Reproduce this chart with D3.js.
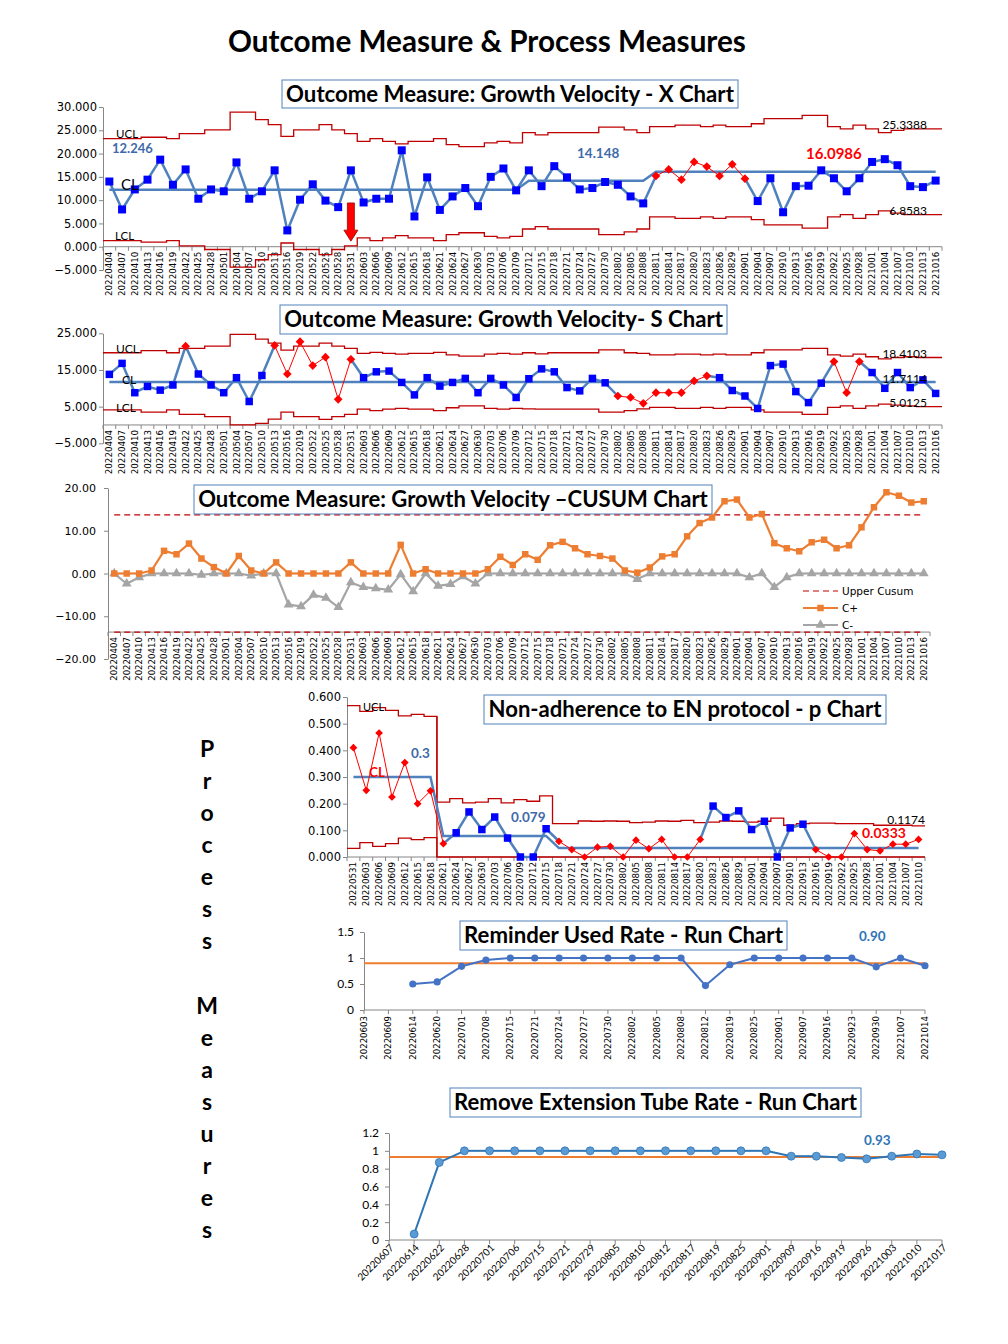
<!DOCTYPE html>
<html>
<head>
<meta charset="utf-8">
<title>Outcome Measure & Process Measures</title>
<script src="https://cdn.jsdelivr.net/npm/d3@7"></script>
<style>
  body { margin: 0; background: #ffffff; }
  svg { display: block; }
</style>
</head>
<body>
<div id="page"></div>
<script>
// ---------- outcome measure: growth velocity ----------
var gvDates = ["20220404","20220407","20220410","20220413","20220416","20220419","20220422","20220425","20220428",
  "20220501","20220504","20220507","20220510","20220513","20220516","20222019","20220522","20220525","20220528","20220531",
  "20220603","20220606","20220609","20220612","20220615","20220618","20220621","20220624","20220627","20220630",
  "20220703","20220706","20220709","20220712","20220715","20220718","20220721","20220724","20220727","20220730",
  "20220802","20220805","20220808","20220811","20220814","20220817","20220820","20220823","20220826","20220829",
  "20220901","20220904","20220907","20220910","20220913","20220916","20220919","20220922","20220925","20220928",
  "20221001","20221004","20221007","20221010","20221013","20221016"];

// X chart
var gvX = [14.0, 8.0, 12.3, 14.4, 18.7, 13.3, 16.6, 10.3, 12.3, 11.9,
  18.1, 10.3, 11.9, 16.4, 3.5, 10.1, 13.4, 9.9, 8.5, 16.4,
  9.5, 10.3, 10.3, 20.7, 6.5, 14.9, 7.9, 10.8, 12.6, 8.7,
  15.0, 16.8, 12.1, 16.4, 13.0, 17.3, 14.9, 12.3, 12.6, 13.9,
  13.3, 10.8, 9.3, 15.2, 16.6, 14.4, 18.2, 17.2, 15.2, 17.7,
  14.6, 9.8, 14.7, 7.4, 13.0, 13.1, 16.4, 14.7, 11.9, 14.7,
  18.2, 18.8, 17.5, 13.0, 12.8, 14.2];
var gvXUcl = [23.2, 23.2, 23.2, 23.5, 23.5, 23.2, 24.3, 24.3, 25.1, 25.1,
  28.9, 28.9, 27.3, 26.2, 23.7, 25.1, 25.1, 26.2, 25.1, 24.3,
  22.6, 23.2, 22.6, 22.1, 22.6, 22.6, 23.2, 21.9, 21.5, 21.5,
  22.3, 22.6, 22.3, 24.5, 24.0, 24.5, 24.5, 24.5, 24.5, 25.7,
  25.7, 25.1, 24.5, 25.8, 25.8, 26.1, 26.1, 25.8, 26.1, 25.8,
  25.8, 26.4, 27.5, 27.5, 27.5, 28.2, 28.2, 25.8, 25.3, 26.1,
  25.3, 24.5, 25.0, 25.3, 25.3, 25.3];
var gvXLcl = [1.3, 1.3, 1.3, 1.0, 1.0, 1.3, 0.2, 0.2, -0.6, -0.6,
  -4.4, -4.4, -2.8, -1.7, 0.8, -0.6, -0.6, -1.7, -0.6, 0.2,
  1.9, 1.3, 1.9, 2.4, 1.9, 1.9, 1.3, 2.6, 3.0, 3.0,
  2.2, 1.9, 2.2, 3.8, 4.3, 3.8, 3.8, 3.8, 3.8, 2.6,
  2.6, 3.2, 3.8, 6.4, 6.4, 6.1, 6.1, 6.4, 6.1, 6.4,
  6.4, 5.8, 4.7, 4.7, 4.7, 4.0, 4.0, 6.4, 6.9, 6.1,
  6.9, 7.7, 7.2, 6.9, 6.9, 6.9];
var gvXClValues = [12.246, 14.148, 16.0986];
var gvXClStart = ["20220404", "20220712", "20220811"];
var gvXSignal = ["20220811","20220814","20220817","20220820","20220823","20220826","20220829","20220901"];
var gvXLimitLabels = ["25.3388", "6.8583"];
var gvXArrow = { date: "20220531", from: 9.4, to: 1.2 };

// S chart
var gvS = [13.8, 16.8, 8.8, 10.5, 9.5, 10.9, 21.5, 13.9, 10.9, 8.8,
  12.9, 6.4, 13.5, 21.7, 13.9, 22.7, 16.2, 18.5, 7.0, 17.9,
  12.9, 14.5, 14.7, 11.6, 8.2, 12.9, 10.6, 11.6, 12.7, 8.8,
  12.7, 10.9, 7.5, 12.6, 15.3, 14.5, 10.2, 9.3, 12.7, 11.5,
  7.9, 7.5, 5.9, 8.8, 8.8, 8.8, 12.0, 13.4, 12.9, 9.4,
  7.9, 4.5, 16.2, 16.6, 9.1, 6.1, 11.4, 17.3, 8.8, 17.3,
  14.3, 10.0, 14.3, 10.2, 12.3, 8.6];
var gvSUcl = [19.7, 19.7, 19.7, 20.3, 20.3, 19.7, 20.9, 20.9, 21.5, 21.5,
  24.7, 24.7, 23.4, 22.3, 20.4, 21.5, 21.5, 22.3, 21.5, 20.9,
  19.5, 19.8, 19.5, 19.3, 19.5, 19.5, 19.8, 19.1, 18.8, 18.8,
  19.3, 19.5, 19.3, 19.7, 19.4, 19.7, 19.7, 19.7, 19.7, 20.5,
  20.5, 19.7, 19.5, 19.1, 19.1, 19.3, 19.3, 19.1, 19.3, 19.1,
  19.1, 19.7, 20.5, 20.5, 20.5, 20.9, 20.9, 19.1, 18.8, 19.3,
  18.6, 18.0, 18.4, 18.6, 18.4, 18.4];
var gvSLcl = [4.1, 4.1, 4.1, 3.5, 3.5, 4.1, 2.9, 2.9, 2.3, 2.3,
  0.0, 0.0, 0.45, 1.6, 3.5, 2.3, 2.3, 1.5, 2.3, 2.9,
  4.3, 3.9, 4.3, 4.5, 4.3, 4.3, 3.9, 4.7, 5.2, 5.2,
  4.5, 4.3, 4.5, 4.4, 4.3, 4.3, 4.3, 4.3, 4.3, 3.5,
  3.5, 3.9, 4.4, 4.8, 4.8, 4.5, 4.5, 4.8, 4.5, 4.8,
  4.8, 4.1, 3.5, 3.5, 3.5, 2.9, 2.9, 4.8, 5.2, 4.5,
  5.2, 5.7, 5.4, 5.2, 5.0, 5.0];
var gvSCl = 11.7114;
var gvSSignal = ["20220422","20220513","20220516","20222019","20220522","20220525","20220528","20220531",
  "20220802","20220805","20220808","20220811","20220814","20220817","20220820","20220823",
  "20220922","20220925","20220928"];
var gvSLimitLabels = ["18.4103", "11.7114", "5.0125"];

// CUSUM chart
var cusumPlus = [0, 0, 0, 0.7, 5.3, 4.5, 7.0, 3.5, 1.5, 0,
  4.1, 0.7, 0, 2.6, 0, 0, 0, 0, 0, 2.6,
  0, 0, 0, 6.7, 0, 1.0, 0, 0, 0, 0,
  1.0, 3.9, 2.0, 4.5, 3.2, 6.6, 7.4, 5.9, 4.5, 4.1,
  3.5, 0.7, 0.2, 1.4, 4.0, 4.5, 8.7, 11.8, 13.1, 16.9,
  17.3, 13.1, 13.9, 7.1, 5.9, 5.2, 7.3, 7.9, 5.9, 6.6,
  10.8, 15.5, 19.0, 18.2, 16.6, 16.9];
var cusumMinus = [0, -2.4, -0.9, 0, 0, 0, 0, -0.3, 0, 0,
  0, -0.5, 0, 0, -7.3, -7.7, -5.0, -5.7, -7.9, -2.1,
  -3.2, -3.5, -3.8, -0.2, -4.2, 0, -2.9, -2.5, -0.7, -2.4,
  0, 0, 0, 0, 0, 0, 0, 0, 0, 0,
  0, 0, -1.3, 0, 0, 0, 0, 0, 0, 0,
  0, -0.9, 0, -3.2, -0.9, 0, 0, 0, 0, 0,
  0, 0, 0, 0, 0, 0];
var cusumLimit = 13.7;
var cusumLegend = ["Upper Cusum", "C+", "C-"];

// ---------- process measure: p chart ----------
var pDates = ["20220531","20220603","20220606","20220609","20220612","20220615","20220618","20220621","20220624","20220627","20220630",
  "20220703","20220706","20220709","20220712","20220715","20220718","20220721","20220724","20220727","20220730",
  "20220802","20220805","20220808","20220811","20220814","20220817","20220820","20220823","20220826","20220829",
  "20220901","20220904","20220907","20220910","20220913","20220916","20220919","20220922","20220925","20220928",
  "20221001","20221004","20221007","20221010"];
var pValues = [0.41, 0.25, 0.465, 0.225, 0.354, 0.20, 0.248, 0.05, 0.091, 0.169, 0.103,
  0.15, 0.071, 0, 0, 0.106, 0.059, 0.028, 0, 0.037, 0.04,
  0, 0.063, 0.031, 0.066, 0, 0, 0.066, 0.191, 0.148, 0.173,
  0.103, 0.134, 0, 0.109, 0.123, 0.028, 0, 0, 0.088, 0.028,
  0.023, 0.048, 0.048, 0.066];
var pUcl = [0.568, 0.546, 0.56, 0.55, 0.529, 0.535, 0.527, 0.206, 0.219, 0.203, 0.206,
  0.219, 0.203, 0.215, 0.209, 0.229, 0.125, 0.125, 0.135, 0.134, 0.135,
  0.134, 0.129, 0.131, 0.135, 0.134, 0.1375, 0.129, 0.131, 0.135, 0.134,
  0.131, 0.134, 0.146, 0.119, 0.125, 0.127, 0.127, 0.125, 0.125, 0.125,
  0.119, 0.119, 0.119, 0.117];
var pLcl = [0.032, 0.054, 0.04, 0.05, 0.071, 0.065, 0.073, 0, 0, 0, 0,
  0, 0, 0, 0, 0, 0, 0, 0, 0, 0,
  0, 0, 0, 0, 0, 0, 0, 0, 0, 0,
  0, 0, 0, 0, 0, 0, 0, 0, 0, 0,
  0, 0, 0, 0];
var pClValues = [0.3, 0.079, 0.0333];
var pClStart = ["20220531", "20220621", "20220718"];
var pBlue = ["20220624","20220627","20220630","20220703","20220706","20220709","20220712","20220715",
  "20220823","20220826","20220829","20220901","20220904","20220907","20220910","20220913"];
var pUclLabel = "0.1174";

// ---------- process measure: run charts ----------
var remDates = ["20220603","20220609","20220614","20220620","20220701","20220708","20220715","20220721","20220724","20220727",
  "20220730","20220802","20220805","20220808","20220812","20220819","20220825","20220901","20220907","20220916",
  "20220923","20220930","20221007","20221014"];
var remValues = [null, null, 0.50, 0.54, 0.84, 0.96, 1, 1, 1, 1,
  1, 1, 1, 1, 0.47, 0.87, 1, 1, 1, 1,
  1, 0.83, 1, 0.85];
var remMean = 0.90;

var tubeDates = ["20220607","20220614","20220622","20220628","20220701","20220706","20220715","20220721","20220729","20220805",
  "20220810","20220812","20220817","20220819","20220825","20220901","20220909","20220916","20220919","20220926",
  "20221003","20221010","20221017"];
var tubeValues = [null, 0.067, 0.87, 1, 1, 1, 1, 1, 1, 1,
  1, 1, 1, 1, 1, 1, 0.94, 0.94, 0.925, 0.91,
  0.94, 0.965, 0.955];
var tubeMean = 0.93;

// ---------- drawing ----------
var axisGray = "#868686";
var limitRed = "#C00000";
var lineBlue = "#4F81BD";
var markBlue = "#0000FF";
var red = "#FF0000";
var tickFont = "'DejaVu Sans', Verdana, sans-serif";
var titleFont = "Lato, Calibri, sans-serif";

var svg = d3.select("#page").append("svg")
  .attr("width", 1008)
  .attr("height", 1344);
svg.append("rect").attr("width", 1008).attr("height", 1344).attr("fill", "#fff");

function fitWidth(t, w) {
  var len = t.node().getComputedTextLength();
  var fs = parseFloat(t.attr("font-size"));
  t.attr("font-size", fs * w / len);
}

function titleBox(x0, y0, x1, y1, label, textW) {
  svg.append("rect")
    .attr("x", x0).attr("y", y0)
    .attr("width", x1 - x0).attr("height", y1 - y0)
    .attr("fill", "#fff").attr("stroke", "#4F81BD").attr("stroke-width", 1);
  var t = svg.append("text")
    .attr("x", (x0 + x1) / 2).attr("y", (y0 + y1) / 2)
    .attr("text-anchor", "middle")
    .attr("font-family", titleFont).attr("font-weight", "bold")
    .attr("font-size", 20).attr("fill", "#000")
    .text(label);
  fitWidth(t, textW);
  t.attr("dy", "0.36em");
}

function label(g, x, y, txt, opt) {
  opt = opt || {};
  return g.append("text")
    .attr("x", x).attr("y", y)
    .attr("text-anchor", opt.anchor || "start")
    .attr("font-family", opt.font || titleFont)
    .attr("font-weight", opt.bold ? "bold" : "normal")
    .attr("font-size", opt.size || 12)
    .attr("fill", opt.color || "#000")
    .text(txt);
}

function leftAxis(g, y, xPos, ticks, fmt, font, size, pad) {
  var ax = d3.axisLeft(y).tickValues(ticks).tickFormat(fmt)
    .tickSizeInner(4).tickSizeOuter(0).tickPadding(pad);
  var a = g.append("g").attr("transform", "translate(" + xPos + ",0)").call(ax);
  a.select(".domain").attr("stroke", axisGray);
  a.selectAll(".tick line").attr("stroke", axisGray);
  a.selectAll(".tick text").attr("font-family", font).attr("font-size", size).attr("fill", "#000");
}

// category axis for band scales (ticks on category edges)
function catAxis(g, x, yPos, size) {
  var r = x.range();
  g.append("line").attr("x1", r[0]).attr("x2", r[1]).attr("y1", yPos).attr("y2", yPos)
    .attr("stroke", axisGray);
  var edges = x.domain().map(function(d) { return x(d); }).concat([r[1]]);
  g.selectAll(null).data(edges).enter().append("line")
    .attr("x1", function(d) { return d; }).attr("x2", function(d) { return d; })
    .attr("y1", yPos).attr("y2", yPos + 4)
    .attr("stroke", axisGray);
  g.selectAll(null).data(x.domain()).enter().append("text")
    .attr("transform", function(d) {
      return "translate(" + (x(d) + x.bandwidth() / 2) + "," + (yPos + 5) + ") rotate(-90)";
    })
    .attr("text-anchor", "end").attr("dy", "0.35em")
    .attr("font-family", tickFont).attr("font-size", size).attr("fill", "#000")
    .text(function(d) { return d; });
}

// category axis for point scales (ticks on the categories)
function pointAxis(g, x, yPos, size, angle, font) {
  var r = x.range();
  g.append("line").attr("x1", r[0]).attr("x2", r[1]).attr("y1", yPos).attr("y2", yPos)
    .attr("stroke", axisGray);
  g.selectAll(null).data(x.domain()).enter().append("line")
    .attr("x1", function(d) { return x(d); }).attr("x2", function(d) { return x(d); })
    .attr("y1", yPos).attr("y2", yPos + 4)
    .attr("stroke", axisGray);
  g.selectAll(null).data(x.domain()).enter().append("text")
    .attr("transform", function(d) {
      var dx = angle === -45 ? 3 : 0;
      return "translate(" + (x(d) + dx) + "," + (yPos + 6) + ") rotate(" + angle + ")";
    })
    .attr("text-anchor", "end").attr("dy", "0.35em")
    .attr("font-family", font).attr("font-size", size).attr("fill", "#000")
    .text(function(d) { return d; });
}

function center(x, d) {
  return x(d) + (x.bandwidth ? x.bandwidth() / 2 : 0);
}

function stepLimit(g, x, y, vals, color) {
  var pts = [];
  x.domain().forEach(function(d, i) {
    pts.push([x(d), vals[i]]);
    pts.push([x(d) + x.bandwidth(), vals[i]]);
  });
  g.append("path").datum(pts)
    .attr("d", d3.line().x(function(p) { return p[0]; }).y(function(p) { return y(p[1]); }))
    .attr("fill", "none").attr("stroke", color).attr("stroke-width", 1.3);
}

function phaseValue(dates, starts, values, d) {
  var idx = dates.indexOf(d), v = values[0];
  starts.forEach(function(s, k) { if (idx >= dates.indexOf(s)) v = values[k]; });
  return v;
}

function centerLine(g, x, y, dates, clAt, color, width) {
  g.append("path").datum(dates)
    .attr("d", d3.line().x(function(d) { return center(x, d); }).y(function(d) { return y(clAt(d)); }))
    .attr("fill", "none").attr("stroke", color).attr("stroke-width", width);
}

function drawSeries(g, x, y, dates, vals, flagged, st) {
  for (var i = 0; i < vals.length - 1; i++) {
    if (vals[i] == null || vals[i + 1] == null) continue;
    var both = flagged.indexOf(dates[i]) >= 0 && flagged.indexOf(dates[i + 1]) >= 0;
    var s = both ? st.flag : st.base;
    g.append("line")
      .attr("x1", center(x, dates[i])).attr("y1", y(vals[i]))
      .attr("x2", center(x, dates[i + 1])).attr("y2", y(vals[i + 1]))
      .attr("stroke", s.stroke).attr("stroke-width", s.width);
  }
  vals.forEach(function(v, i) {
    if (v == null) return;
    var s = flagged.indexOf(dates[i]) >= 0 ? st.flag : st.base;
    g.append("path")
      .attr("d", d3.symbol().type(s.shape).size(s.size)())
      .attr("transform", "translate(" + center(x, dates[i]) + "," + y(v) + ") rotate(" + (s.rot || 0) + ")")
      .attr("fill", s.fill)
      .attr("stroke", s.mstroke || "none")
      .attr("stroke-width", 0.8);
  });
}

var blueSquare = { stroke: lineBlue, width: 2.5, shape: d3.symbolSquare, size: 64, fill: markBlue };
var redDiamond = { stroke: red, width: 1, shape: d3.symbolSquare, size: 38, rot: 45, fill: red };

// ---------- main title ----------
var main = svg.append("text")
  .attr("x", 487).attr("y", 52).attr("text-anchor", "middle")
  .attr("font-family", titleFont).attr("font-weight", "bold").attr("font-size", 28)
  .text("Outcome Measure & Process Measures");
fitWidth(main, 518);

// ---------- X chart ----------
var gX = svg.append("g");
var xX = d3.scaleBand().domain(gvDates).range([103, 942]);
var yX = d3.scaleLinear().domain([-5, 30]).range([270, 107]);
leftAxis(gX, yX, 103, [-5, 0, 5, 10, 15, 20, 25, 30], d3.format(".3f"), tickFont, 11.5, 2);
catAxis(gX, xX, yX(0), 8.7);
stepLimit(gX, xX, yX, gvXUcl, limitRed);
stepLimit(gX, xX, yX, gvXLcl, limitRed);
centerLine(gX, xX, yX, gvDates, function(d) { return phaseValue(gvDates, gvXClStart, gvXClValues, d); }, lineBlue, 2.5);
drawSeries(gX, xX, yX, gvDates, gvX, gvXSignal, { base: blueSquare, flag: redDiamond });

// arrow
var ax0 = center(xX, gvXArrow.date);
var ayTop = yX(gvXArrow.from), ayTip = yX(gvXArrow.to);
gX.append("path")
  .attr("d", "M" + (ax0 - 3.5) + "," + ayTop + "V" + (ayTip - 11) + "H" + (ax0 - 7) +
    "L" + ax0 + "," + ayTip + "L" + (ax0 + 7) + "," + (ayTip - 11) + "H" + (ax0 + 3.5) + "V" + ayTop + "Z")
  .attr("fill", red).attr("stroke", "#A00000").attr("stroke-width", 0.8);

label(gX, 116, 138, "UCL", { size: 11.5 });
label(gX, 112, 153, String(gvXClValues[0]), { size: 13, bold: true, color: "#3F6AAA" });
label(gX, 121, 190, "CL", { size: 15 });
label(gX, 115, 240, "LCL", { size: 11.5 });
label(gX, 577, 158, String(gvXClValues[1]), { size: 13.5, bold: true, color: "#3F6AAA" });
label(gX, 806, 159, String(gvXClValues[2]), { size: 15, bold: true, color: red });
label(gX, 927, 129, gvXLimitLabels[0], { size: 12, anchor: "end" });
label(gX, 927, 215, gvXLimitLabels[1], { size: 12, anchor: "end" });

// ---------- S chart ----------
var gS = svg.append("g");
var xS = d3.scaleBand().domain(gvDates).range([103, 942]);
var yS = d3.scaleLinear().domain([-5, 25]).range([443.3, 333.3]);
leftAxis(gS, yS, 103, [-5, 5, 15, 25], d3.format(".3f"), tickFont, 11.5, 2);
catAxis(gS, xS, yS(0), 8.7);
stepLimit(gS, xS, yS, gvSUcl, limitRed);
stepLimit(gS, xS, yS, gvSLcl, limitRed);
centerLine(gS, xS, yS, gvDates, function() { return gvSCl; }, lineBlue, 2.5);
drawSeries(gS, xS, yS, gvDates, gvS, gvSSignal, {
  base: { stroke: lineBlue, width: 2.5, shape: d3.symbolSquare, size: 56, fill: markBlue },
  flag: redDiamond
});
label(gS, 116, 353, "UCL", { size: 12 });
label(gS, 122, 384, "CL", { size: 12 });
label(gS, 116, 412, "LCL", { size: 12 });
label(gS, 927, 358, gvSLimitLabels[0], { size: 12, anchor: "end" });
label(gS, 927, 383, gvSLimitLabels[1], { size: 12, anchor: "end" });
label(gS, 927, 407, gvSLimitLabels[2], { size: 12, anchor: "end" });

// ---------- CUSUM chart ----------
var gC = svg.append("g");
var xC = d3.scaleBand().domain(gvDates).range([108, 930]);
var yC = d3.scaleLinear().domain([-20, 20]).range([659, 488]);
leftAxis(gC, yC, 108, [-20, -10, 0, 10, 20], d3.format(".2f"), tickFont, 11, 8);
catAxis(gC, xC, yC(-cusumLimit), 8.6);
[cusumLimit, -cusumLimit].forEach(function(h) {
  gC.append("line")
    .attr("x1", center(xC, gvDates[0])).attr("x2", center(xC, gvDates[gvDates.length - 1]))
    .attr("y1", yC(h)).attr("y2", yC(h))
    .attr("stroke", limitRed).attr("stroke-width", 1.2).attr("stroke-dasharray", "6,4");
});
var orange = "#ED7D31", gray = "#A5A5A5";
var plusStyle = { stroke: orange, width: 2.2, shape: d3.symbolSquare, size: 42, fill: orange };
var minusStyle = { stroke: gray, width: 2.2, shape: d3.symbolTriangle, size: 42, fill: gray };
drawSeries(gC, xC, yC, gvDates, cusumMinus, [], { base: minusStyle, flag: minusStyle });
drawSeries(gC, xC, yC, gvDates, cusumPlus, [], { base: plusStyle, flag: plusStyle });

// legend
var legY = [591, 608, 625];
gC.append("line").attr("x1", 803).attr("x2", 838).attr("y1", legY[0]).attr("y2", legY[0])
  .attr("stroke", limitRed).attr("stroke-width", 1.2).attr("stroke-dasharray", "6,4");
[plusStyle, minusStyle].forEach(function(s, k) {
  var yy = legY[k + 1];
  gC.append("line").attr("x1", 803).attr("x2", 838).attr("y1", yy).attr("y2", yy)
    .attr("stroke", s.stroke).attr("stroke-width", 2.2);
  gC.append("path").attr("d", d3.symbol().type(s.shape).size(s.size)())
    .attr("transform", "translate(820.5," + yy + ")").attr("fill", s.fill);
});
cusumLegend.forEach(function(t, k) {
  label(gC, 842, legY[k] + 4, t, { font: tickFont, size: 10.5 });
});

// ---------- p chart ----------
var gP = svg.append("g");
var xP = d3.scaleBand().domain(pDates).range([347, 925]);
var yP = d3.scaleLinear().domain([0, 0.6]).range([857, 697]);
leftAxis(gP, yP, 347, [0, 0.1, 0.2, 0.3, 0.4, 0.5, 0.6], d3.format(".3f"), tickFont, 11.5, 2);
catAxis(gP, xP, yP(0), 8.7);
stepLimit(gP, xP, yP, pUcl, limitRed);
stepLimit(gP, xP, yP, pLcl, limitRed);
// phase divider where the second phase starts
var pSplit = pDates.indexOf(pClStart[1]);
gP.append("line")
  .attr("x1", xP(pClStart[1])).attr("x2", xP(pClStart[1]))
  .attr("y1", yP(pUcl[pSplit - 1])).attr("y2", yP(0))
  .attr("stroke", limitRed).attr("stroke-width", 1.3);
centerLine(gP, xP, yP, pDates, function(d) { return phaseValue(pDates, pClStart, pClValues, d); }, lineBlue, 2.5);
var pRed = pDates.filter(function(d) { return pBlue.indexOf(d) < 0; });
drawSeries(gP, xP, yP, pDates, pValues, pRed, {
  base: { stroke: lineBlue, width: 2.5, shape: d3.symbolSquare, size: 56, fill: markBlue },
  flag: { stroke: red, width: 1, shape: d3.symbolSquare, size: 30, rot: 45, fill: red }
});
label(gP, 363, 711, "UCL", { size: 11 });
label(gP, 369, 777, "CL", { size: 13.5, bold: true, color: red });
label(gP, 411, 758, String(pClValues[0]), { size: 13.5, bold: true, color: "#3F6AAA" });
label(gP, 511, 822, String(pClValues[1]), { size: 13.5, bold: true, color: "#3F6AAA" });
label(gP, 925, 824, pUclLabel, { size: 12, anchor: "end" });
label(gP, 862, 838, String(pClValues[2]), { size: 14, bold: true, color: red });

// ---------- Process Measures side text ----------
var sideWords = ["Process", "Measures"];
sideWords.forEach(function(w, k) {
  w.split("").forEach(function(ch, j) {
    svg.append("text")
      .attr("x", 207).attr("y", (k === 0 ? 757 : 1014) + 32 * j)
      .attr("text-anchor", "middle")
      .attr("font-family", titleFont).attr("font-weight", "bold").attr("font-size", 23)
      .text(ch);
  });
});

// ---------- Reminder run chart ----------
var gR = svg.append("g");
var xR = d3.scalePoint().domain(remDates).range([364, 925]);
var yR = d3.scaleLinear().domain([0, 1.5]).range([1010, 932]);
leftAxis(gR, yR, 364, [0, 0.5, 1, 1.5], function(d) { return String(d); }, titleFont, 12, 6);
pointAxis(gR, xR, yR(0), 8.6, -90, tickFont);
gR.append("line").attr("x1", 364).attr("x2", 925).attr("y1", yR(remMean)).attr("y2", yR(remMean))
  .attr("stroke", orange).attr("stroke-width", 2);
var remStyle = { stroke: "#4472C4", width: 2, shape: d3.symbolCircle, size: 40, fill: "#4472C4" };
drawSeries(gR, xR, yR, remDates, remValues, [], { base: remStyle, flag: remStyle });
label(gR, 859, 941, remMean.toFixed(2), { size: 13.5, bold: true, color: "#2E75B6" });

// ---------- Remove extension tube run chart ----------
var gT = svg.append("g");
var xT = d3.scalePoint().domain(tubeDates).range([389, 942]);
var yT = d3.scaleLinear().domain([0, 1.2]).range([1240, 1133]);
leftAxis(gT, yT, 389, [0, 0.2, 0.4, 0.6, 0.8, 1, 1.2], function(d) { return String(+d.toFixed(1)); }, titleFont, 12, 6);
pointAxis(gT, xT, yT(0), 10, -45, titleFont);
gT.append("line").attr("x1", 389).attr("x2", 942).attr("y1", yT(tubeMean)).attr("y2", yT(tubeMean))
  .attr("stroke", orange).attr("stroke-width", 2);
var tubeStyle = { stroke: "#2E75B6", width: 2, shape: d3.symbolCircle, size: 50, fill: "#5B9BD5", mstroke: "#2E75B6" };
drawSeries(gT, xT, yT, tubeDates, tubeValues, [], { base: tubeStyle, flag: tubeStyle });
label(gT, 864, 1145, tubeMean.toFixed(2), { size: 13.5, bold: true, color: "#2E75B6" });

// ---------- chart title boxes (on top) ----------
titleBox(282, 80, 738, 108, "Outcome Measure: Growth Velocity - X Chart", 448);
titleBox(280, 305, 727, 334, "Outcome Measure: Growth Velocity- S Chart", 439);
titleBox(194, 485, 712, 514, "Outcome Measure: Growth Velocity \u2013CUSUM Chart", 510);
titleBox(484, 695, 886, 724, "Non-adherence to EN protocol - p Chart", 393);
titleBox(460, 921, 787, 950, "Reminder Used Rate - Run Chart", 319);
titleBox(450, 1088, 861, 1117, "Remove Extension Tube Rate - Run Chart", 403);
</script>
</body>
</html>
